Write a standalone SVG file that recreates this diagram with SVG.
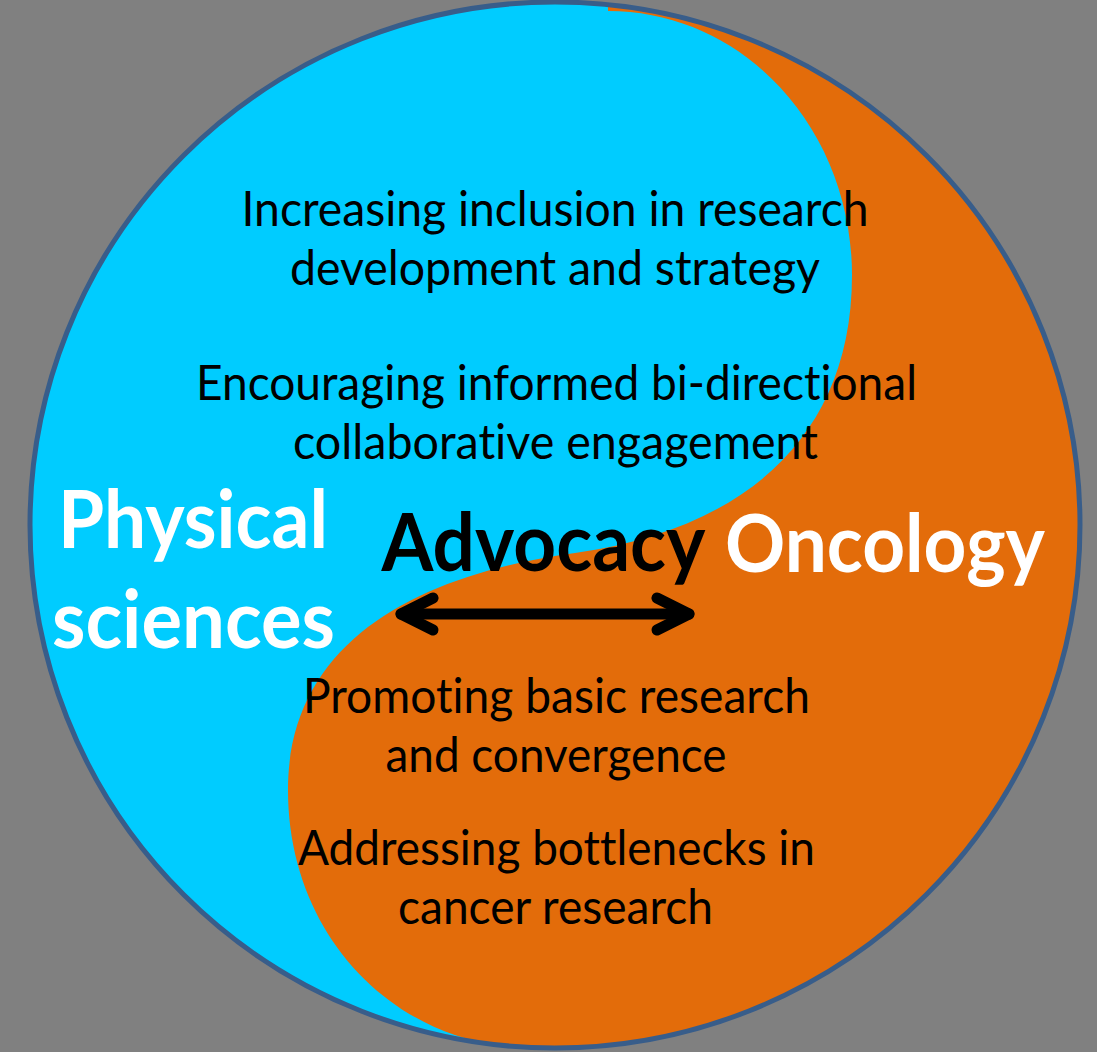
<svg xmlns="http://www.w3.org/2000/svg" width="1097" height="1052" viewBox="0 0 1097 1052">
  <style>
    .body { font-family: Lato, "Open Sans", "Liberation Sans", sans-serif; font-size: 48px; fill: #000000; text-anchor: middle; font-variant-ligatures: none; }
    .label { font-family: Lato, "Open Sans", "Liberation Sans", sans-serif; font-size: 80px; font-weight: 700; text-anchor: middle; font-variant-ligatures: none; }
    .white { fill: #FFFFFF; }
    .black { fill: #000000; }
    .arrow { fill: none; stroke: #000000; stroke-width: 11; stroke-linecap: round; stroke-linejoin: round; }
  </style>
  <defs>
    <clipPath id="circleClip">
      <ellipse cx="555" cy="525" rx="525" ry="523"/>
    </clipPath>
  </defs>
  <rect x="0" y="0" width="1097" height="1052" fill="#808080"/>
  <g id="yinyang">
    <ellipse cx="555" cy="525" rx="525" ry="523" fill="#E36C0A"/>
    <path clip-path="url(#circleClip)" fill="#00CCFF" d="M 608 -10 L 608 11 C 745 11 852 130 852 275 C 852 440 740 530 575 553 C 420 574 288 640 288 790 C 288 940 400 1048 533 1048 L 533 1060 L -10 1060 L -10 -10 Z"/>
    <ellipse cx="555" cy="525" rx="525" ry="523" fill="none" stroke="#385D8A" stroke-width="5"/>
  </g>
  <g id="physical-sciences">
    <text class="label white" x="193" y="548" textLength="270" lengthAdjust="spacingAndGlyphs">Physical</text>
    <text class="label white" x="193.5" y="648" textLength="283" lengthAdjust="spacingAndGlyphs">sciences</text>
  </g>
  <g id="advocacy">
    <text class="label black" x="543.5" y="571" textLength="324" lengthAdjust="spacingAndGlyphs">Advocacy</text>
  </g>
  <g id="oncology">
    <text class="label white" x="885" y="572" textLength="320" lengthAdjust="spacingAndGlyphs">Oncology</text>
  </g>
  <g id="inclusion">
    <text class="body" x="555" y="226" textLength="627" lengthAdjust="spacingAndGlyphs">Increasing inclusion in research</text>
    <text class="body" x="555" y="285" textLength="530" lengthAdjust="spacingAndGlyphs">development and strategy</text>
  </g>
  <g id="engagement">
    <text class="body" x="556.5" y="400" textLength="721" lengthAdjust="spacingAndGlyphs">Encouraging informed bi-directional</text>
    <text class="body" x="555.5" y="459" textLength="525" lengthAdjust="spacingAndGlyphs">collaborative engagement</text>
  </g>
  <g id="basic-research">
    <text class="body" x="556.5" y="713" textLength="507" lengthAdjust="spacingAndGlyphs">Promoting basic research</text>
    <text class="body" x="556" y="772" textLength="341" lengthAdjust="spacingAndGlyphs">and convergence</text>
  </g>
  <g id="bottlenecks">
    <text class="body" x="556.5" y="865" textLength="517" lengthAdjust="spacingAndGlyphs">Addressing bottlenecks in</text>
    <text class="body" x="555.5" y="924" textLength="315" lengthAdjust="spacingAndGlyphs">cancer research</text>
  </g>
  <g id="connectors">
    <path class="arrow" d="M 401 614 L 689 614"/>
    <path class="arrow" d="M 433 598 L 401 614 L 433 630"/>
    <path class="arrow" d="M 657 598 L 689 614 L 657 630"/>
  </g>
</svg>
